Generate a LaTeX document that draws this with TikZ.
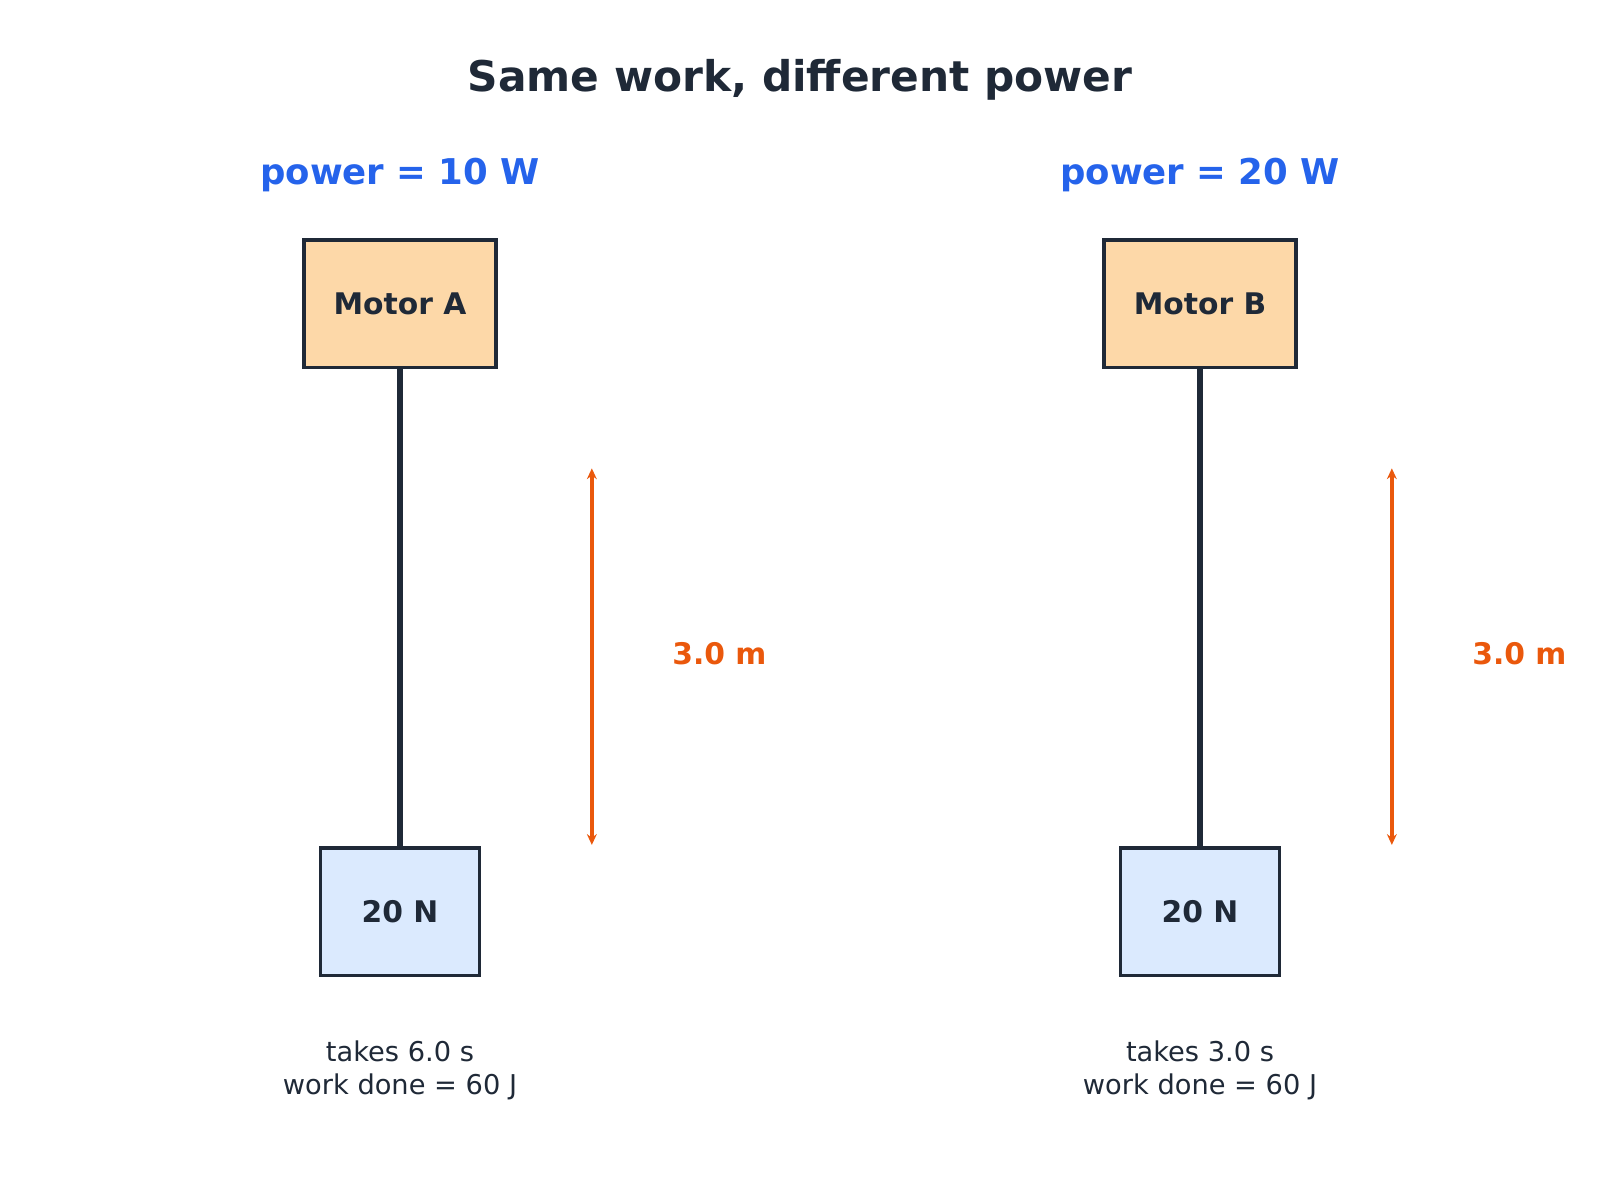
\documentclass[tikz,border=0pt]{standalone}
\usepackage{fontspec}
\setmainfont{DejaVu Sans}
\usetikzlibrary{arrows.meta}
\definecolor{ink}{HTML}{1F2937}
\definecolor{pblue}{HTML}{2563EB}
\definecolor{org}{HTML}{EA580C}
\definecolor{motorc}{HTML}{FDD8A8}
\definecolor{loadc}{HTML}{DBEAFE}
\begin{document}
\begin{tikzpicture}[x=0.02cm,y=-0.02cm,
  box/.style={draw=ink,line width=2pt,inner sep=0pt,font=\bfseries\fontsize{16.6}{19}\selectfont,text=ink},
  motor/.style={box,fill=motorc,minimum width=188*0.02cm,minimum height=125*0.02cm},
  load/.style={box,fill=loadc,minimum width=156*0.02cm,minimum height=125*0.02cm},
  rope/.style={draw=ink,line width=2.9pt},
  dim/.style={draw=org,line width=2pt,{Stealth[length=6pt,width=5.5pt]}-{Stealth[length=6pt,width=5.5pt]}},
  dimlab/.style={text=org,font=\bfseries\fontsize{16.6}{19}\selectfont},
  plab/.style={text=pblue,font=\bfseries\fontsize{19.8}{23}\selectfont},
  note/.style={text=ink,align=center,font=\fontsize{15.2}{18.2}\selectfont}]
\useasboundingbox (0,0) rectangle (1568,1176);
\node[text=ink,font=\bfseries\fontsize{23.6}{28}\selectfont] (title) at (784,78) {Same work, different power};
\foreach \o/\m/\p/\t/\s in {0/A/10/6.0/a,784/B/20/3.0/b}{
  \node[plab] (p\s) at (392+\o,172) {power = \p\ W};
  \node[motor] (m\s) at (392+\o,297.5) {Motor \m};
  \node[load] (l\s) at (392+\o,893.5) {20 N};
  \draw[rope] (m\s.south) -- (l\s.north);
  \coordinate (t\s) at (580+\o,459);
  \coordinate (b\s) at (580+\o,828);
  \draw[dim] (t\s) -- (b\s);
  \node[dimlab] (d\s) at (705+\o,641) {3.0 m};
  \node[note] (n\s) at (392+\o,1049) {takes \t\ s\\work done = 60 J};
}
\end{tikzpicture}
\end{document}
